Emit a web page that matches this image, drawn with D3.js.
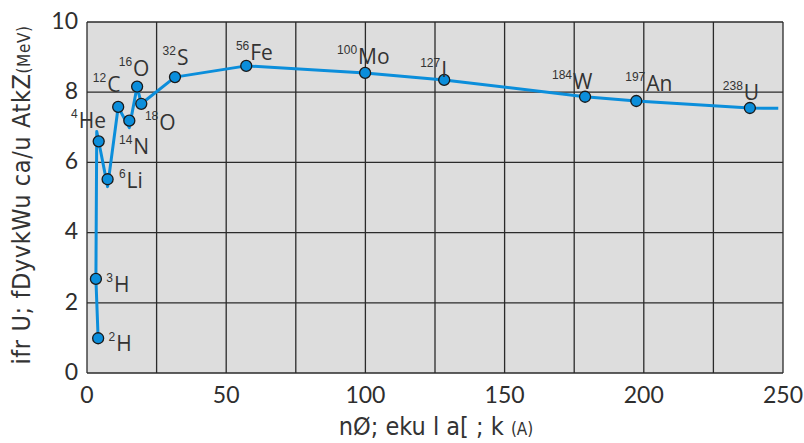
<!DOCTYPE html>
<html>
<head>
<meta charset="utf-8">
<script src="https://cdn.jsdelivr.net/npm/d3@7"></script>
<style>
  body { margin: 0; background: #fff; }
  svg { display: block; }
  .tick-label { font-family: "Lato", "Liberation Sans", sans-serif; font-size: 23px; fill: #2e2e2e; }
  .title { font-family: "DejaVu Sans Condensed", "DejaVu Sans", sans-serif; font-stretch: condensed; fill: #333; }
  .sym { font-family: "Open Sans", "Liberation Sans", sans-serif; font-size: 21px; fill: #333; }
  .sup { font-family: "Liberation Sans", sans-serif; font-size: 12px; fill: #333; }
</style>
</head>
<body>
<div id="chart"></div>
<script>
// isotopes shown on the curve
const symbols = ["H", "H", "He", "Li", "C", "N", "O", "O", "S", "Fe", "Mo", "I", "W", "An", "U"];
const massLabels = ["2", "3", "4", "6", "12", "14", "16", "18", "32", "56", "100", "127", "184", "197", "238"];
const pointX = [4.0, 3.2, 4.2, 7.4, 11.2, 15.2, 18.0, 19.5, 31.6, 57.2, 99.9, 128.3, 178.9, 197.3, 238.1];
const pointY = [0.99, 2.68, 6.60, 5.52, 7.58, 7.19, 8.16, 7.67, 8.43, 8.75, 8.55, 8.35, 7.87, 7.75, 7.55];

// the curve itself
const lineX = [4.0, 3.2, 3.5, 7.4, 11.2, 15.2, 18.0, 19.5, 31.6, 57.2, 99.9, 128.3, 178.9, 197.3, 238.1, 248.3];
const lineY = [0.99, 2.68, 6.88, 5.31, 7.58, 6.99, 8.16, 7.67, 8.43, 8.75, 8.55, 8.35, 7.87, 7.75, 7.55, 7.54];

const xTicks = [0, 50, 100, 150, 200, 250];
const yTicks = [0, 2, 4, 6, 8, 10];
const xGrid = [0, 25, 50, 75, 100, 125, 150, 175, 200, 225, 250];

// label placement (px from the dot: symbol start x, baseline y)
const labelOffsets = [[18, 13], [18, 13], [-20, -13], [19, 9], [-11, -15], [4, 33], [-4, -11], [18, 26],
  [2, -12], [4, -6], [-7, -9], [-3, -3], [-12, -8], [10, -10], [-6, -8]];

const width = 804, height = 443;
const pLeft = 87, pRight = 783, pTop = 22, pBottom = 373;

const svg = d3.select("#chart").append("svg")
  .attr("width", width)
  .attr("height", height);

const x = d3.scaleLinear().domain([0, 250]).range([pLeft, pRight]);
const y = d3.scaleLinear().domain([0, 10]).range([pBottom, pTop]);

// background
svg.append("rect")
  .attr("x", pLeft).attr("y", pTop)
  .attr("width", pRight - pLeft).attr("height", pBottom - pTop)
  .attr("fill", "#dddddd");

// grid
const grid = svg.append("g").attr("stroke", "#2a2a2a").attr("stroke-width", 1.3);
grid.selectAll("line.v").data(xGrid).enter().append("line")
  .attr("x1", d => x(d)).attr("x2", d => x(d))
  .attr("y1", pTop).attr("y2", pBottom);
grid.selectAll("line.h").data(yTicks).enter().append("line")
  .attr("x1", pLeft).attr("x2", pRight)
  .attr("y1", d => y(d)).attr("y2", d => y(d));

// tick labels
svg.append("g").selectAll("text").data(xTicks).enter().append("text")
  .attr("class", "tick-label")
  .attr("x", d => x(d)).attr("y", 403)
  .attr("text-anchor", "middle")
  .text(d => d);
svg.append("g").selectAll("text").data(yTicks).enter().append("text")
  .attr("class", "tick-label")
  .attr("x", 78).attr("y", d => y(d) + 1)
  .attr("text-anchor", "end")
  .attr("dominant-baseline", "middle")
  .text(d => d);

// curve
const lineData = lineX.map((v, i) => [v, lineY[i]]);
const line = d3.line().x(d => x(d[0])).y(d => y(d[1]));
svg.append("path")
  .datum(lineData)
  .attr("d", line)
  .attr("fill", "none")
  .attr("stroke", "#0b8edb")
  .attr("stroke-width", 3)
  .attr("stroke-linejoin", "round");

// dots
const points = pointX.map((v, i) => ({ x: v, y: pointY[i], sym: symbols[i], mass: massLabels[i], off: labelOffsets[i] }));
svg.append("g").selectAll("circle").data(points).enter().append("circle")
  .attr("cx", d => x(d.x)).attr("cy", d => y(d.y))
  .attr("r", 5.5)
  .attr("fill", "#0b8edb")
  .attr("stroke", "#1a1a1a")
  .attr("stroke-width", 1.3);

// isotope labels
const labels = svg.append("g");
points.forEach(d => {
  const sx = x(d.x) + d.off[0], sy = y(d.y) + d.off[1];
  labels.append("text").attr("class", "sym")
    .attr("x", sx).attr("y", sy).text(d.sym);
  labels.append("text").attr("class", "sup")
    .attr("x", sx - 1).attr("y", sy - 10)
    .attr("text-anchor", "end").text(d.mass);
});

// axis titles
const yt = svg.append("text").attr("class", "title")
  .attr("transform", "translate(30," + 195 + ") rotate(-90)")
  .attr("text-anchor", "middle")
  .attr("letter-spacing", 0.6);
yt.append("tspan").attr("font-size", 25).text("ifr U; fDyvkWu ca/u AtkZ");
yt.append("tspan").attr("font-size", 17).text("(MeV)");

const xt = svg.append("text").attr("class", "title")
  .attr("x", 436).attr("y", 435)
  .attr("text-anchor", "middle");
xt.append("tspan").attr("font-size", 25).text("nØ; eku l a[ ; k ");
xt.append("tspan").attr("font-size", 17).text("(A)");
</script>
</body>
</html>
